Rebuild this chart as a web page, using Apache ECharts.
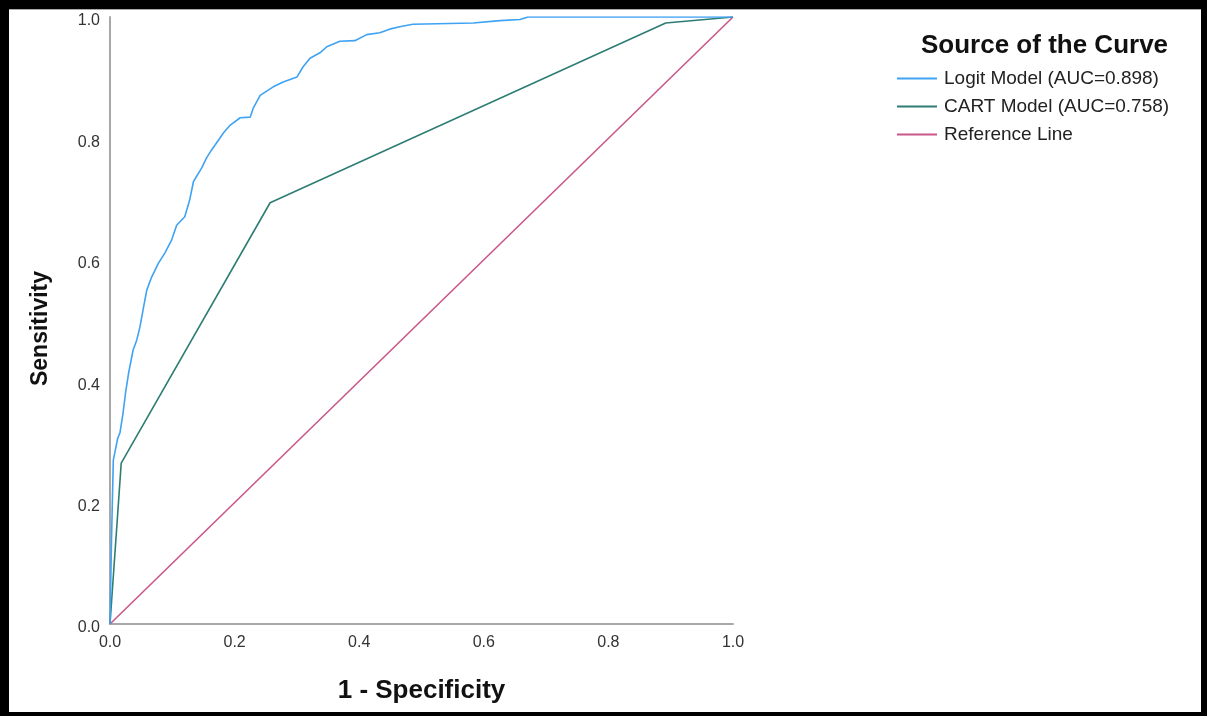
<!DOCTYPE html>
<html>
<head>
<meta charset="utf-8">
<script src="https://cdn.jsdelivr.net/npm/echarts@6/dist/echarts.min.js"></script>
<style>
  html, body { margin: 0; padding: 0; width: 1207px; height: 716px; background: #000; overflow: hidden; }
  #frame { position: absolute; left: 9px; top: 9px; width: 1192px; height: 703px; background: #fff; border-top: 1px solid #aaa; box-sizing: border-box; }
  #chart { position: absolute; left: 0; top: 0; width: 1207px; height: 716px; }
</style>
</head>
<body>
<div id="frame"></div>
<div id="chart"></div>
<script>
// ---- Data ----
const axisTicks = [0, 0.2, 0.4, 0.6, 0.8, 1.0];

const logitFpr = [0, 0.0024, 0.0053, 0.0124, 0.016, 0.021, 0.025, 0.030, 0.037, 0.043, 0.048, 0.053, 0.059, 0.067, 0.078, 0.088, 0.099, 0.107, 0.120, 0.128, 0.134, 0.147, 0.155, 0.163, 0.174, 0.182, 0.193, 0.209, 0.225, 0.230, 0.241, 0.262, 0.278, 0.300, 0.310, 0.321, 0.337, 0.348, 0.369, 0.393, 0.412, 0.433, 0.449, 0.465, 0.486, 0.583, 0.626, 0.658, 0.671, 1.0];
const logitTpr = [0, 0.138, 0.270, 0.306, 0.315, 0.348, 0.381, 0.414, 0.451, 0.468, 0.489, 0.517, 0.550, 0.572, 0.595, 0.611, 0.633, 0.657, 0.671, 0.699, 0.729, 0.751, 0.768, 0.781, 0.797, 0.809, 0.822, 0.834, 0.835, 0.850, 0.871, 0.885, 0.893, 0.901, 0.918, 0.932, 0.941, 0.951, 0.960, 0.961, 0.971, 0.974, 0.980, 0.984, 0.988, 0.990, 0.994, 0.996, 1.0, 1.0];

const cartFpr = [0, 0.018, 0.257, 0.892, 1.0];
const cartTpr = [0, 0.265, 0.694, 0.990, 1.0];

const refFpr = [0, 1];
const refTpr = [0, 1];

const seriesNames = ['Logit Model (AUC=0.898)', 'CART Model (AUC=0.758)', 'Reference Line'];
const legendTitle = 'Source of the Curve';
const xName = '1 - Specificity';
const yName = 'Sensitivity';

function pairs(xs, ys) { return xs.map((x, i) => [x, ys[i]]); }

const FONT = "'Liberation Sans', Arial, sans-serif";
const chart = echarts.init(document.getElementById('chart'), null, { renderer: 'canvas' });

const axisCommon = {
  type: 'value', min: 0, max: 1, interval: 0.2,
  axisLine: { show: true, lineStyle: { color: '#a8a8a8', width: 2 } },
  axisTick: { show: false },
  splitLine: { show: false },
  nameLocation: 'middle',
  nameTextStyle: { fontFamily: FONT, fontSize: 26, fontWeight: 'bold', color: '#111' },
  axisLabel: { fontFamily: FONT, fontSize: 16, color: '#333', formatter: v => v.toFixed(1) }
};

chart.setOption({
  animation: false,
  title: {
    text: legendTitle, left: 916, top: 28,
    textStyle: { fontFamily: FONT, fontSize: 26, fontWeight: 'bold', color: '#111' }
  },
  legend: {
    data: seriesNames, orient: 'vertical', left: 892, top: 64,
    icon: 'rect', itemWidth: 40, itemHeight: 2, itemGap: 9,
    textStyle: { fontFamily: FONT, fontSize: 19, color: '#222', lineHeight: 19, padding: [0, 0, 0, 2] }
  },
  grid: { left: 110, top: 17, width: 623, height: 607, containLabel: false },
  xAxis: Object.assign({}, axisCommon, { name: xName, nameGap: 54,
    axisLabel: Object.assign({}, axisCommon.axisLabel, { margin: 11 }) }),
  yAxis: Object.assign({}, axisCommon, { name: yName, nameGap: 58, nameRotate: 90,
    nameTextStyle: Object.assign({}, axisCommon.nameTextStyle, { fontSize: 23, padding: [0, 16, 0, 0] }),
    axisLabel: Object.assign({}, axisCommon.axisLabel, { margin: 10, verticalAlign: 'top', lineHeight: 8 }) }),
  series: [
    { name: seriesNames[0], type: 'line', data: pairs(logitFpr, logitTpr), symbol: 'none',
      lineStyle: { color: '#3fa2f2', width: 1.6 }, itemStyle: { color: '#3fa2f2' }, z: 3 },
    { name: seriesNames[1], type: 'line', data: pairs(cartFpr, cartTpr), symbol: 'none',
      lineStyle: { color: '#2e7d74', width: 1.6 }, itemStyle: { color: '#2e7d74' }, z: 2 },
    { name: seriesNames[2], type: 'line', data: pairs(refFpr, refTpr), symbol: 'none',
      lineStyle: { color: '#c9578a', width: 1.6 }, itemStyle: { color: '#c9578a' }, z: 1 }
  ]
});
</script>
</body>
</html>
